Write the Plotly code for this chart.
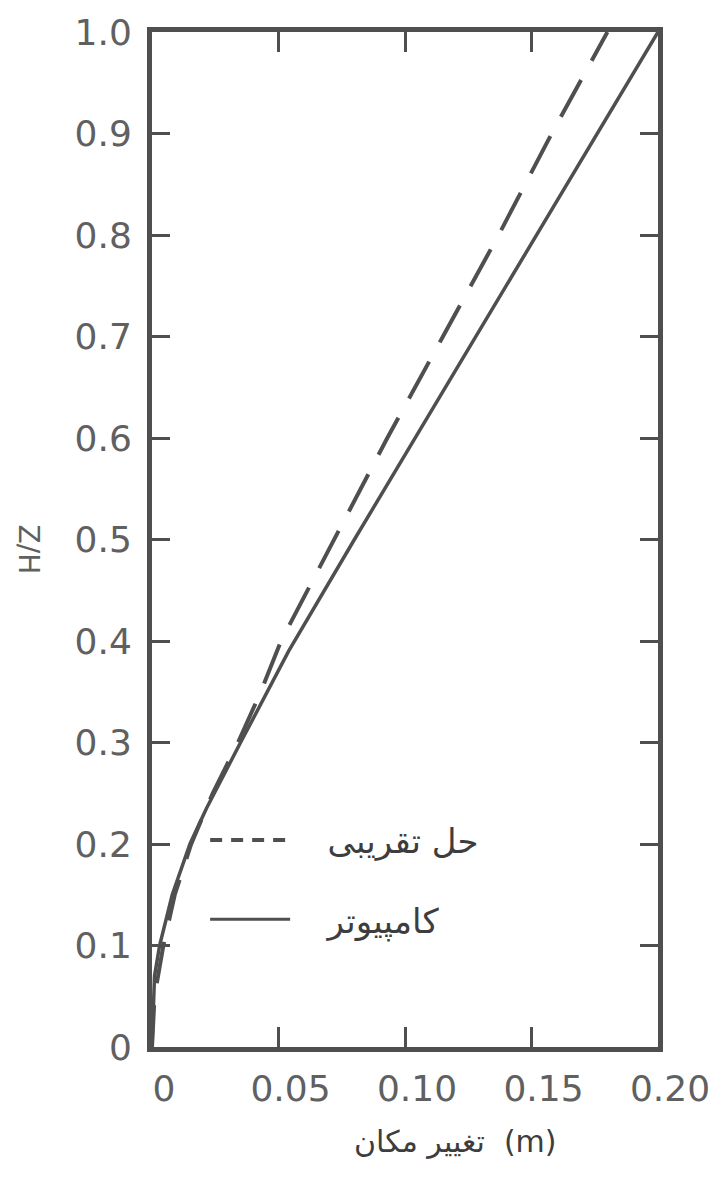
import plotly.graph_objects as go

# z/H levels and displacement (m)
z_approx = [0, 0.05, 0.10, 0.15, 0.20, 0.25, 0.30, 0.35, 0.40, 0.50, 0.60, 0.70, 0.80, 0.90, 1.00]
x_approx = [0, 0.001, 0.0045, 0.009, 0.0155, 0.024, 0.034, 0.043, 0.051, 0.072, 0.093, 0.115, 0.137, 0.158, 0.180]

z_comp = [0, 0.05, 0.07, 0.10, 0.15, 0.20, 0.235, 0.30, 0.39, 0.50, 0.60, 0.70, 0.80, 0.90, 1.00]
x_comp = [0, 0.0005, 0.001, 0.003, 0.008, 0.015, 0.0215, 0.035, 0.054, 0.080, 0.104, 0.128, 0.152, 0.176, 0.200]

name_approx = "حل تقریبی"
name_comp = "کامپیوتر"

x_ticks = [0, 0.05, 0.10, 0.15, 0.20]
x_ticktext = ["0", "0.05", "0.10", "0.15", "0.20"]
y_ticks = [0, 0.1, 0.2, 0.3, 0.4, 0.5, 0.6, 0.7, 0.8, 0.9, 1.0]
y_ticktext = ["0", "0.1", "0.2", "0.3", "0.4", "0.5", "0.6", "0.7", "0.8", "0.9", "1.0"]

x_title = "تغییر مکان  (m)"
y_title = "Z/H"

LINE = "#4f4f4f"
TEXT = "#606060"
GAP = "\u00a0\u00a0\u00a0"

fig = go.Figure()
fig.add_trace(go.Scatter(x=x_approx, y=z_approx, mode="lines", showlegend=False,
                         line=dict(color=LINE, width=4, dash="42px,22px")))
fig.add_trace(go.Scatter(x=x_comp, y=z_comp, mode="lines", showlegend=False,
                         line=dict(color=LINE, width=3.5)))
# legend entries
fig.add_trace(go.Scatter(x=[None], y=[None], mode="lines", name=GAP + name_approx,
                         legendgroup="a", line=dict(color=LINE, width=4, dash="12px,9px")))
fig.add_trace(go.Scatter(x=[None], y=[None], mode="lines", name=GAP + name_comp,
                         legendgroup="b", line=dict(color=LINE, width=3)))

axis_common = dict(showgrid=False, zeroline=False, showline=True, linecolor=LINE,
                   linewidth=5, mirror="ticks", ticks="inside", tickwidth=3,
                   tickcolor=LINE, tickfont=dict(family="DejaVu Sans", size=36, color=TEXT))

fig.update_xaxes(range=[0, 0.2], tickvals=x_ticks, ticktext=x_ticktext, ticklen=20,
                 ticklabelshift=12, ticklabelstandoff=6, **axis_common)
fig.update_yaxes(range=[0, 1.0], tickvals=y_ticks, ticktext=y_ticktext, ticklen=18,
                 ticklabelstandoff=8, **axis_common)

fig.add_annotation(text=x_title, xref="paper", yref="paper", x=0.6, y=-0.093,
                   xanchor="center", yanchor="middle", showarrow=False,
                   font=dict(family="DejaVu Sans", size=30, color="#3d3d3d"))
fig.add_annotation(text=y_title, xref="paper", yref="paper", x=-0.245, y=0.49,
                   xanchor="center", yanchor="middle", showarrow=False, textangle=90,
                   font=dict(family="DejaVu Sans", size=28, color=TEXT))

fig.update_layout(
    width=722, height=1185,
    margin=dict(l=152, r=58, t=28, b=138),
    paper_bgcolor="white", plot_bgcolor="white",
    legend=dict(x=0.105, y=0.232, xanchor="left", yanchor="top", bgcolor="rgba(0,0,0,0)",
                font=dict(family="DejaVu Sans", size=34, color="#3d3d3d"),
                itemwidth=80, tracegroupgap=32),
)

fig.write_html("out.html")
